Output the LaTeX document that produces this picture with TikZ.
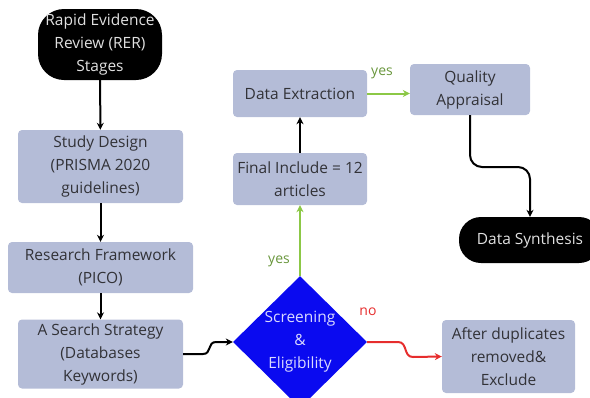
\documentclass[tikz,border=0pt]{standalone}
\usepackage{fontspec}
\setmainfont{Open Sans}
\usetikzlibrary{shapes.geometric,arrows.meta,calc}
\definecolor{boxfill}{RGB}{180,188,215}
\definecolor{boxtext}{RGB}{50,50,55}
\definecolor{lgreen}{RGB}{140,200,70}
\definecolor{tgreen}{RGB}{105,150,60}
\definecolor{lred}{RGB}{230,45,45}
\definecolor{dblue}{RGB}{10,10,240}
\begin{document}
\begin{tikzpicture}[x=1pt,y=-1pt,
  every node/.style={font=\fontsize{15.5}{23}\selectfont, align=center, inner sep=0pt},
  box/.style={fill=boxfill, rounded corners=4pt, text=boxtext},
  term/.style={fill=black, rounded corners=26pt, text=white!88!black},
  dia/.style={diamond, fill=dblue, aspect=1, minimum width=134pt, minimum height=124pt, text=white!85!blue},
  conn/.style={line width=2pt, -{Stealth[length=7pt,width=7pt]}},
  lbl/.style={font=\fontsize{14}{16}\selectfont}
]
\useasboundingbox (0,0) rectangle (590,397);
\node[term, minimum width=124pt, minimum height=71pt] (rer) at (100,44.5) {Rapid Evidence\\Review (RER)\\Stages};
\node[box, minimum width=165pt, minimum height=73pt] (sd) at (100.5,166.5) {Study Design\\(PRISMA 2020\\guidelines)};
\node[box, minimum width=185pt, minimum height=51pt] (rf) at (100.5,267.5) {Research Framework\\(PICO)};
\node[box, minimum width=165pt, minimum height=69pt] (ss) at (100.5,354) {A Search Strategy\\(Databases\\Keywords)};
\node[dia] (dia) at (300,342) {Screening\\\&\\Eligibility};
\node[box, minimum width=134pt, minimum height=52pt] (fi) at (300,179) {Final Include = 12\\articles};
\node[box, minimum width=134pt, minimum height=47pt] (de) at (300,93.5) {Data Extraction};
\node[box, minimum width=120pt, minimum height=51pt] (qa) at (470,89.5) {Quality\\Appraisal};
\node[term, rounded corners=22pt, minimum width=142pt, minimum height=46pt] (ds) at (530,240) {Data Synthesis};
\node[box, minimum width=133pt, minimum height=73pt] (ad) at (508.5,356.5) {After duplicates\\removed\&\\Exclude};

\draw[conn] (rer) -- (sd);
\draw[conn] (sd) -- (rf);
\draw[conn] (rf) -- (ss);
\draw[conn] (ss.east) -- (203,354) .. controls (212,354) and (207,342) .. (216,342) -- (dia.west);
\draw[conn, lgreen] (dia.north) -- (fi.south);
\draw[conn] (fi) -- (de);
\draw[conn, lgreen] (de.east) -- (qa.west |- de.east);
\draw[conn, rounded corners=12pt] (qa.south) -- (470,167) -- (530,167) -- (ds.north);
\draw[conn, lred] (dia.east) -- (398,342) .. controls (408,342) and (403,357) .. (413,357) -- (ad.west);

\node[lbl, text=tgreen] (y1) at (279,261) {yes};
\node[lbl, text=tgreen] (y2) at (382,73) {yes};
\node[lbl, text=lred] (n1) at (368,312) {no};
\end{tikzpicture}
\end{document}
